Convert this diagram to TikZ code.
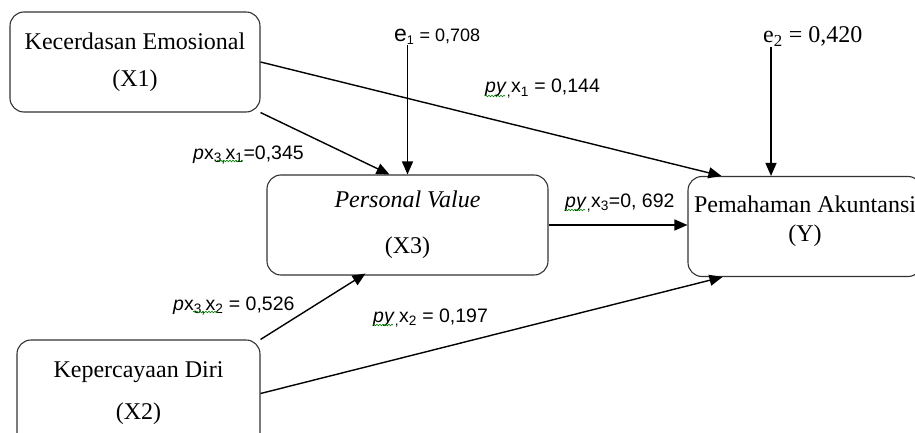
\documentclass[tikz,border=0pt]{standalone}
\usepackage{fontspec}
\setmainfont{Liberation Serif}
\setsansfont{Liberation Sans}
\usetikzlibrary{arrows.meta,decorations.pathmorphing}

\begin{document}
\begin{tikzpicture}[x=1pt,y=-1pt,
    box/.style={draw=black!80,rounded corners=14pt,line width=1.1pt,align=center,inner sep=0pt,
      minimum height=100pt,font=\fontsize{24}{29}\selectfont},
    path/.style={-{Triangle[length=13pt,width=11pt]},line width=1.4pt},
    coef/.style={anchor=base west,font=\sffamily\fontsize{19.5}{21}\selectfont,inner sep=0pt},
    squig/.style={green!50!black,line width=0.6pt,decorate,decoration={snake,amplitude=0.8pt,segment length=3pt}}]
  \useasboundingbox (0,0) rectangle (915,433);
  \clip (0,0) rectangle (915,433);

  \node[box,minimum width=250pt] (x1) at (135,62) {Kecerdasan Emosional\\[8pt](X1)};
  \node[box,minimum width=281pt] (x3) at (407.5,225) {\itshape Personal Value\\[17pt]\upshape(X3)};
  \node[box,minimum width=234pt,text depth=15pt] (y) at (805,226.5) {Pemahaman Akuntansi\\(Y)};
  \node[box,minimum width=243pt,minimum height=107pt] (x2) at (138.5,393.5) {Kepercayaan Diri\\[13pt](X2)};

  \node[coef,font=\sffamily\fontsize{18}{20}\selectfont] (e1) at (394,42) {{\fontsize{23}{23}\selectfont e}\textsubscript{1} = 0,708};
  \node[anchor=base west,inner sep=0pt,font=\fontsize{24}{26}\selectfont] (e2) at (763,43) {e\textsubscript{2} = 0,420};

  \node[coef] (c31) at (193,159) {\textit{p}x\textsubscript{3,}x\textsubscript{1}=0,345};
  \node[coef] (cy1) at (485,93) {\textit{py}\textsubscript{,}x\textsubscript{1} = 0,144};
  \node[coef] (cy3) at (565,207) {\textit{py}\textsubscript{,}x\textsubscript{3}=0, 692};
  \node[coef] (c32) at (173,310) {\textit{p}x\textsubscript{3,}x\textsubscript{2} = 0,526};
  \node[coef] (cy2) at (373,322) {\textit{py}\textsubscript{,}x\textsubscript{2} = 0,197};

  \draw[squig] ([xshift=24pt,yshift=-2pt]c31.base west) -- ([xshift=50pt,yshift=-2pt]c31.base west);
  \draw[squig] ([yshift=-3pt]cy1.base west) -- ([xshift=20pt,yshift=-3pt]cy1.base west);
  \draw[squig] ([yshift=-3pt]cy3.base west) -- ([xshift=20pt,yshift=-3pt]cy3.base west);
  \draw[squig] ([xshift=20pt,yshift=-2pt]c32.base west) -- ([xshift=45pt,yshift=-2pt]c32.base west);
  \draw[squig] ([yshift=-3pt]cy2.base west) -- ([xshift=20pt,yshift=-3pt]cy2.base west);

  \coordinate (ytop) at ([xshift=-34pt]y.north);

  \draw[path] (x3.north |- e1.south) -- (x3.north);
  \draw[path] (ytop |- e2.south) -- (ytop);
  \draw[path] (x1.east) -- ([xshift=34pt]y.north west);
  \draw[path] (x1.south east) -- ([xshift=-18pt]x3.north);
  \draw[path] (x3.east) -- (x3.east -| y.west);
  \draw[path] (x2.north east) -- ([xshift=-42pt,yshift=2pt]x3.south);
  \draw[path] (x2.east) -- ([xshift=35pt]y.south west);
\end{tikzpicture}
\end{document}
